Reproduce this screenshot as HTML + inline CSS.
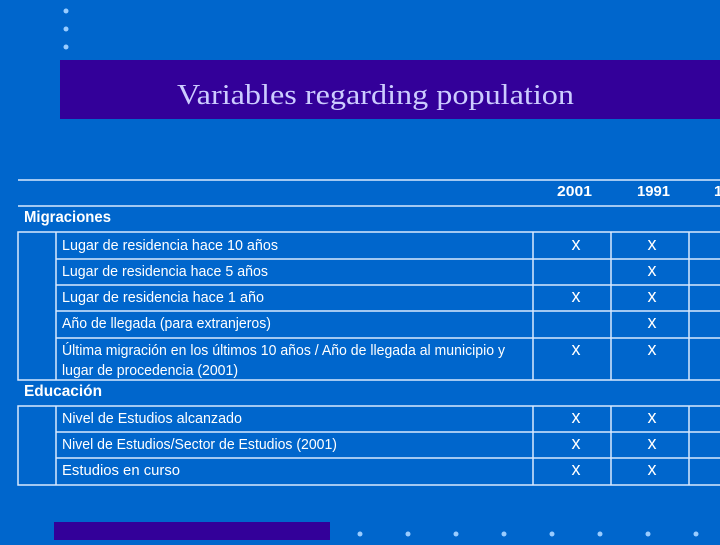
<!DOCTYPE html>
<html>
<head>
<meta charset="utf-8">
<style>
html,body{margin:0;padding:0;}
body{width:720px;height:540px;overflow:hidden;background:#0066cc;position:relative;font-family:"Liberation Sans",sans-serif;}
</style>
</head>
<body>
<svg width="720" height="540" viewBox="0 0 720 540" xmlns="http://www.w3.org/2000/svg">
  <rect x="0" y="0" width="720" height="540" fill="#0066cc"/>
  <g fill="#99ccff">
    <circle cx="66" cy="11" r="2.5"/><circle cx="66" cy="29" r="2.5"/><circle cx="66" cy="47" r="2.5"/>
  </g>
  <rect x="60" y="60" width="660" height="59" fill="#330099"/>
  <text x="177" y="104" font-family="Liberation Serif, serif" font-size="29" fill="#ccccff" textLength="397" lengthAdjust="spacingAndGlyphs">Variables regarding population</text>

  <g stroke="#d8e8ff" stroke-width="1.5" fill="none">
    <line x1="18" y1="180" x2="720" y2="180"/>
    <line x1="18" y1="206" x2="720" y2="206"/>
    <rect x="18" y="232" width="710" height="148"/>
    <line x1="56" y1="232" x2="56" y2="380"/>
    <line x1="533" y1="232" x2="533" y2="380"/>
    <line x1="611" y1="232" x2="611" y2="380"/>
    <line x1="689" y1="232" x2="689" y2="380"/>
    <line x1="56" y1="259" x2="720" y2="259"/>
    <line x1="56" y1="285" x2="720" y2="285"/>
    <line x1="56" y1="311" x2="720" y2="311"/>
    <line x1="56" y1="338" x2="720" y2="338"/>
    <line x1="18" y1="259" x2="18" y2="259"/>
    <rect x="18" y="406" width="710" height="79"/>
    <line x1="56" y1="406" x2="56" y2="485"/>
    <line x1="533" y1="406" x2="533" y2="485"/>
    <line x1="611" y1="406" x2="611" y2="485"/>
    <line x1="689" y1="406" x2="689" y2="485"/>
    <line x1="56" y1="432" x2="720" y2="432"/>
    <line x1="56" y1="458" x2="720" y2="458"/>
  </g>

  <g fill="#ffffff" font-family="Liberation Sans, sans-serif" lengthAdjust="spacingAndGlyphs">
    <text x="557" y="196" font-size="15" font-weight="bold" textLength="35" lengthAdjust="spacingAndGlyphs">2001</text>
    <text x="637" y="196" font-size="15" font-weight="bold" textLength="33" lengthAdjust="spacingAndGlyphs">1991</text>
    <text x="714" y="196" font-size="15" font-weight="bold">1</text>
    <text x="24" y="222" font-size="16" font-weight="bold" textLength="87" lengthAdjust="spacingAndGlyphs">Migraciones</text>
    <text x="62" y="250" font-size="15" textLength="216" lengthAdjust="spacingAndGlyphs">Lugar de residencia hace 10 años</text>
    <text x="62" y="276" font-size="15" textLength="206" lengthAdjust="spacingAndGlyphs">Lugar de residencia hace 5 años</text>
    <text x="62" y="302" font-size="15" textLength="202" lengthAdjust="spacingAndGlyphs">Lugar de residencia hace 1 año</text>
    <text x="62" y="328" font-size="15" textLength="209" lengthAdjust="spacingAndGlyphs">Año de llegada (para extranjeros)</text>
    <text x="62" y="355" font-size="15" textLength="443" lengthAdjust="spacingAndGlyphs">Última migración en los últimos 10 años / Año de llegada al municipio y</text>
    <text x="62" y="375" font-size="15" textLength="176" lengthAdjust="spacingAndGlyphs">lugar de procedencia (2001)</text>
    <text x="24" y="396" font-size="16" font-weight="bold" textLength="78" lengthAdjust="spacingAndGlyphs">Educación</text>
    <text x="62" y="423" font-size="15" textLength="180" lengthAdjust="spacingAndGlyphs">Nivel de Estudios alcanzado</text>
    <text x="62" y="449" font-size="15" textLength="275" lengthAdjust="spacingAndGlyphs">Nivel de Estudios/Sector de Estudios (2001)</text>
    <text x="62" y="475" font-size="15" textLength="118" lengthAdjust="spacingAndGlyphs">Estudios en curso</text>
  </g>

  <g fill="#ffffff" font-family="Liberation Sans, sans-serif" font-size="18" text-anchor="middle">
    <text x="576" y="250">x</text><text x="652" y="250">x</text>
    <text x="652" y="276">x</text>
    <text x="576" y="302">x</text><text x="652" y="302">x</text>
    <text x="652" y="328">x</text>
    <text x="576" y="355">x</text><text x="652" y="355">x</text>
    <text x="576" y="423">x</text><text x="652" y="423">x</text>
    <text x="576" y="449">x</text><text x="652" y="449">x</text>
    <text x="576" y="475">x</text><text x="652" y="475">x</text>
  </g>

  <rect x="54" y="522" width="276" height="18" fill="#330099"/>
  <g fill="#99ccff">
    <circle cx="360" cy="534" r="2.5"/><circle cx="408" cy="534" r="2.5"/><circle cx="456" cy="534" r="2.5"/><circle cx="504" cy="534" r="2.5"/>
    <circle cx="552" cy="534" r="2.5"/><circle cx="600" cy="534" r="2.5"/><circle cx="648" cy="534" r="2.5"/><circle cx="696" cy="534" r="2.5"/>
  </g>
</svg>
</body>
</html>
